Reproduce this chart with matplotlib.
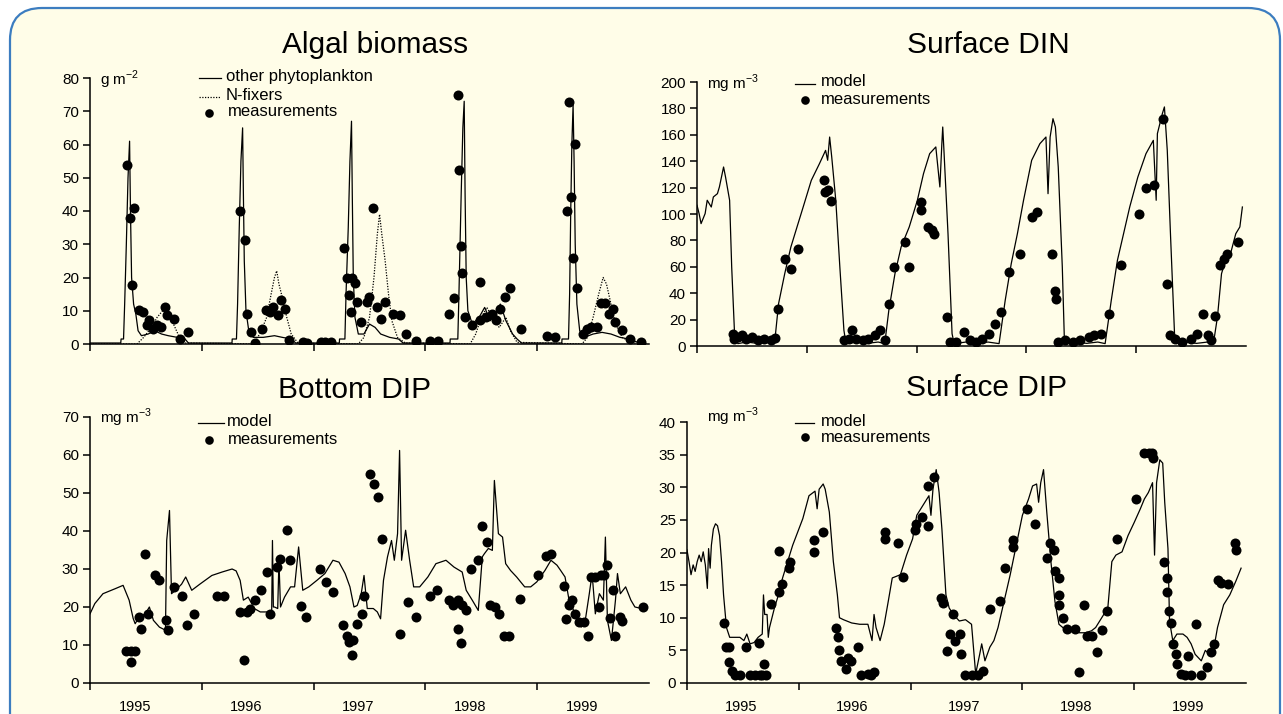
import matplotlib
matplotlib.use('Agg')
import matplotlib.pyplot as plt
from matplotlib.lines import Line2D
from matplotlib.patches import FancyBboxPatch

# ---------------- DATA ----------------
years = [1995, 1996, 1997, 1998, 1999]
year_labels = ['1995', '1996', '1997', '1998', '1999']

# Algal biomass: other phytoplankton (model)
algae_other_t = [1995.00, 1995.275, 1995.278, 1995.30, 1995.31, 1995.325, 1995.34, 1995.354, 1995.362, 1995.372, 1995.39, 1995.41, 1995.43, 1995.46, 1995.52, 1995.58, 1995.64, 1995.70, 1995.78, 1995.85, 1995.88,
                 1996.27, 1996.272, 1996.31, 1996.32, 1996.335, 1996.35, 1996.365, 1996.372, 1996.38, 1996.395, 1996.42, 1996.46, 1996.55, 1996.65, 1996.72, 1996.80, 1996.84,
                 1997.23, 1997.232, 1997.28, 1997.29, 1997.31, 1997.325, 1997.339, 1997.346, 1997.355, 1997.37, 1997.40, 1997.45, 1997.50, 1997.55, 1997.60, 1997.68, 1997.76, 1997.80,
                 1998.22, 1998.222, 1998.29, 1998.30, 1998.32, 1998.335, 1998.347, 1998.355, 1998.365, 1998.38, 1998.42, 1998.48, 1998.53, 1998.58, 1998.63, 1998.67, 1998.72, 1998.78, 1998.82, 1998.86,
                 1999.22, 1999.222, 1999.28, 1999.29, 1999.30, 1999.31, 1999.321, 1999.33, 1999.34, 1999.355, 1999.38, 1999.42, 1999.50, 1999.58, 1999.66, 1999.74, 1999.82, 1999.90, 1999.97]
algae_other_v = [0.3, 0.3, 1.5, 1.5, 12, 30, 50, 61, 40, 20, 12, 9, 4, 2.5, 3, 4, 3, 2.5, 2, 1.5, 0.3,
                 0.3, 1.5, 1.5, 12, 35, 55, 65, 45, 25, 10, 4, 2, 2, 2.5, 2, 1.5, 0.3,
                 0.3, 1.5, 1.5, 15, 35, 55, 67, 45, 20, 8, 3, 3, 6, 5, 3, 2, 1.5, 0.3,
                 0.3, 1.5, 1.5, 15, 45, 65, 73, 45, 20, 10, 6, 8, 11, 7, 9, 12, 7, 3, 1.5, 0.3,
                 0.3, 1.5, 1.5, 15, 40, 60, 72, 55, 30, 12, 4, 2, 3, 3.5, 3, 2, 1.5, 0.5, 0.2]

# Algal biomass: N-fixers (model)
algae_nfix_t = [1995.00, 1995.42, 1995.48, 1995.55, 1995.60, 1995.65, 1995.68, 1995.72, 1995.76, 1995.80, 1995.85,
                1996.45, 1996.52, 1996.58, 1996.62, 1996.65, 1996.67, 1996.69, 1996.72, 1996.76, 1996.80, 1996.86,
                1997.40, 1997.45, 1997.50, 1997.54, 1997.57, 1997.59, 1997.61, 1997.64, 1997.67, 1997.70, 1997.75, 1997.82,
                1998.40, 1998.45, 1998.50, 1998.55, 1998.60, 1998.66, 1998.72, 1998.76, 1998.82,
                1999.40, 1999.45, 1999.50, 1999.55, 1999.59, 1999.62, 1999.66, 1999.70, 1999.76, 1999.85, 1999.97]
algae_nfix_v = [0, 0, 2, 5, 8, 10, 11, 8, 5, 2, 0.3,
                0, 3, 8, 15, 20, 22, 18, 14, 8, 3, 0.3,
                0, 2, 8, 20, 33, 39, 33, 25, 15, 7, 2, 0.3,
                0, 3, 8, 11, 8, 5, 8, 4, 0.5,
                0, 2, 8, 15, 20, 18, 12, 6, 2, 0.3, 0]

# Algal biomass: measurements
algae_meas_t = [1995.332, 1995.361, 1995.394, 1995.375, 1995.440, 1995.477, 1995.513, 1995.531, 1995.567, 1995.603, 1995.639, 1995.675, 1995.693, 1995.747, 1995.801, 1995.874,
                1996.343, 1996.386, 1996.408, 1996.440, 1996.480, 1996.542, 1996.578, 1996.614, 1996.639, 1996.686, 1996.704, 1996.740, 1996.783, 1996.903, 1996.939, 1997.065, 1997.101, 1997.155,
                1997.274, 1997.300, 1997.347, 1997.372, 1997.318, 1997.336, 1997.390, 1997.426, 1997.480, 1997.498, 1997.534, 1997.570, 1997.606, 1997.643, 1997.708, 1997.769, 1997.823, 1997.913, 1998.040, 1998.112,
                1998.213, 1998.256, 1998.292, 1998.303, 1998.321, 1998.329, 1998.357, 1998.419, 1998.491, 1998.491, 1998.545, 1998.599, 1998.635, 1998.671, 1998.708, 1998.755, 1998.852,
                1999.087, 1999.159, 1999.267, 1999.303, 1999.285, 1999.339, 1999.321, 1999.357, 1999.412, 1999.448, 1999.484, 1999.538, 1999.574, 1999.610, 1999.646, 1999.682, 1999.700, 1999.755, 1999.827, 1999.93]
algae_meas_v = [53.7, 38.0, 41.0, 17.7, 10.1, 9.6, 5.6, 7.1, 4.6, 5.6, 5.1, 11.1, 8.6, 7.6, 1.5, 3.5,
                40.0, 31.4, 9.1, 3.5, 0.2, 4.6, 10.1, 9.6, 11.1, 8.6, 13.2, 10.6, 1.2, 0.5, 0.2, 0.5, 0.5, 0.5,
                28.9, 19.7, 19.7, 18.2, 14.7, 9.6, 12.7, 6.6, 12.7, 14.2, 41.0, 11.1, 7.6, 12.7, 9.1, 8.6, 3.0, 1.0, 1.0, 1.0,
                9.1, 13.7, 74.9, 52.2, 29.4, 21.3, 8.1, 5.6, 18.7, 7.1, 8.1, 9.1, 7.1, 10.6, 14.2, 16.7, 4.6,
                2.5, 2.0, 40.0, 44.1, 72.7, 60.3, 25.8, 16.7, 3.0, 4.6, 5.1, 5.1, 12.2, 12.2, 9.1, 10.6, 6.6, 4.1, 1.5, 0.5]

# Surface DIN: model
din_model_t = [1995.000, 1995.019, 1995.037, 1995.074, 1995.093, 1995.130, 1995.149, 1995.186, 1995.204, 1995.242, 1995.260, 1995.297, 1995.316, 1995.342, 1995.372,
               1995.45, 1995.55, 1995.65, 1995.706, 1995.743, 1995.799, 1995.855, 1995.911, 1995.967, 1996.041, 1996.115, 1996.171, 1996.190, 1996.208, 1996.227, 1996.264, 1996.301, 1996.338, 1996.357,
               1996.45, 1996.55, 1996.65, 1996.710, 1996.747, 1996.803, 1996.859, 1996.933, 1997.007, 1997.063, 1997.119, 1997.175, 1997.212, 1997.230, 1997.238, 1997.249, 1997.286, 1997.323, 1997.342,
               1997.45, 1997.55, 1997.65, 1997.751, 1997.807, 1997.862, 1997.918, 1997.974, 1998.048, 1998.123, 1998.178, 1998.197, 1998.216, 1998.242, 1998.264, 1998.290, 1998.327, 1998.346,
               1998.45, 1998.55, 1998.65, 1998.717, 1998.773, 1998.829, 1998.885, 1998.941, 1999.015, 1999.089, 1999.156, 1999.182, 1999.193, 1999.238, 1999.257, 1999.283, 1999.312, 1999.349, 1999.368,
               1999.45, 1999.55, 1999.65, 1999.703, 1999.740, 1999.777, 1999.814, 1999.851, 1999.907, 1999.944, 1999.967]
din_model_v = [106.6, 100.3, 92.7, 100.3, 110.4, 105.3, 112.9, 115.4, 120.5, 135.6, 128.0, 110.4, 59.8, 9.3, 1.8,
               3.0, 2.0, 3.0, 1.8, 32.1, 54.8, 75.0, 90.2, 105.3, 125.5, 138.1, 148.2, 140.7, 158.3, 143.2, 110.4, 59.8, 11.9, 1.8,
               3.0, 2.0, 3.0, 1.8, 27.0, 54.8, 75.0, 90.2, 110.4, 130.6, 145.7, 150.8, 120.5, 153.3, 165.9, 148.2, 85.1, 9.3, 1.8,
               3.0, 2.0, 3.0, 1.8, 34.6, 62.4, 85.1, 110.4, 140.7, 153.3, 158.3, 115.4, 158.3, 172.2, 165.9, 135.6, 59.8, 4.3,
               3.0, 2.0, 3.0, 1.8, 34.6, 64.9, 85.1, 105.3, 128.0, 145.7, 155.8, 110.4, 160.9, 176.0, 181.1, 148.2, 85.1, 9.3, 1.8,
               3.0, 2.0, 3.0, 1.8, 22.0, 54.8, 64.9, 67.4, 85.1, 90.2, 105.3]

# Surface DIN: measurements
din_meas_t = [1995.33, 1995.34, 1995.37, 1995.41, 1995.45, 1995.50, 1995.56, 1995.61, 1995.67, 1995.71,
              1995.74, 1995.80, 1995.86, 1995.92, 1996.16, 1996.17, 1996.19, 1996.22,
              1996.34, 1996.38, 1996.41, 1996.45, 1996.51, 1996.56, 1996.62, 1996.67, 1996.71,
              1996.75, 1996.79, 1996.89, 1996.93, 1997.04, 1997.04, 1997.10, 1997.14, 1997.16, 1997.28,
              1997.30, 1997.36, 1997.43, 1997.49, 1997.54, 1997.60, 1997.66, 1997.71,
              1997.77, 1997.84, 1997.94, 1998.05, 1998.10, 1998.23, 1998.26, 1998.27,
              1998.29, 1998.35, 1998.42, 1998.49, 1998.57, 1998.62, 1998.68,
              1998.75, 1998.86, 1999.03, 1999.09, 1999.16, 1999.24, 1999.28,
              1999.31, 1999.35, 1999.42, 1999.50, 1999.55, 1999.61, 1999.65, 1999.68,
              1999.72, 1999.76, 1999.80, 1999.83, 1999.93]
din_meas_v = [9.3, 5.6, 6.8, 8.0, 5.6, 6.8, 4.3, 5.6, 4.3, 6.3,
              28.0, 66.0, 58.6, 73.7, 125.5, 116.7, 118.0, 110.0,
              4.3, 5.6, 11.9, 5.6, 4.3, 5.6, 8.0, 11.9, 4.3,
              32.0, 60.0, 79.0, 60.0, 109.0, 103.0, 90.0, 87.6, 85.0, 22.0,
              3.0, 3.0, 10.6, 4.3, 3.0, 5.6, 9.3, 17.0,
              25.8, 56.0, 70.0, 97.7, 101.5, 70.0, 42.0, 35.9,
              3.0, 4.3, 3.0, 4.3, 6.8, 8.0, 9.3,
              24.5, 61.0, 100.0, 120.0, 121.7, 172.0, 47.0,
              8.0, 5.6, 3.0, 5.6, 9.3, 24.5, 8.0, 4.3,
              23.0, 61.0, 66.0, 70.0, 79.0]

# Bottom DIP: model
bdip_model_t = [1995.000, 1995.043, 1995.116, 1995.224, 1995.296, 1995.314, 1995.350, 1995.386, 1995.404, 1995.440, 1995.495, 1995.531, 1995.567, 1995.621, 1995.675, 1995.686, 1995.711, 1995.729,
                1995.765, 1995.819, 1995.856, 1995.910, 1995.982, 1996.090, 1996.181, 1996.271, 1996.307, 1996.343, 1996.372, 1996.415, 1996.469, 1996.523, 1996.578, 1996.625, 1996.632, 1996.640,
                1996.650, 1996.679, 1996.690, 1996.704, 1996.740, 1996.794, 1996.830, 1996.866, 1996.903, 1996.957, 1997.029, 1997.101, 1997.173, 1997.227, 1997.282, 1997.325, 1997.361, 1997.390,
                1997.426, 1997.451, 1997.480, 1997.534, 1997.570, 1997.599, 1997.625, 1997.661, 1997.697, 1997.722, 1997.751, 1997.769, 1997.787, 1997.823, 1997.859, 1997.895, 1997.949, 1998.022,
                1998.094, 1998.184, 1998.256, 1998.329, 1998.365, 1998.419, 1998.473, 1998.509, 1998.527, 1998.563, 1998.599, 1998.617, 1998.653, 1998.690, 1998.718, 1998.762, 1998.816, 1998.888,
                1998.942, 1998.996, 1999.069, 1999.123, 1999.177, 1999.210, 1999.249, 1999.285, 1999.339, 1999.394, 1999.430, 1999.466, 1999.491, 1999.520, 1999.556, 1999.592, 1999.610, 1999.628,
                1999.664, 1999.700, 1999.718, 1999.744, 1999.791, 1999.838, 1999.874, 1999.95]
bdip_model_v = [18.2, 20.9, 23.5, 24.8, 25.7, 24.4, 21.8, 17.0, 15.6, 17.4, 18.2, 20.0, 16.5, 14.7, 13.9, 37.5, 45.4, 23.5,
                24.4, 26.0, 27.9, 24.4, 26.0, 28.3, 29.2, 30.0, 29.5, 27.0, 21.8, 22.6, 19.6, 18.7, 18.7, 18.7, 37.5, 20.0,
                20.0, 19.6, 32.0, 20.0, 22.6, 25.3, 25.3, 35.8, 24.4, 25.3, 27.0, 28.8, 32.3, 31.8, 28.8, 25.3, 20.0, 20.4,
                23.5, 28.3, 19.6, 19.6, 18.7, 16.9, 27.0, 33.2, 37.5, 32.3, 39.3, 61.2, 32.3, 40.2, 32.3, 25.3, 25.3, 27.9,
                31.4, 32.3, 30.5, 29.2, 24.4, 21.8, 19.1, 33.2, 34.0, 35.4, 34.9, 53.3, 39.3, 38.4, 31.4, 29.6, 27.9, 25.3,
                25.3, 26.6, 29.6, 32.3, 31.0, 29.6, 27.9, 21.8, 18.2, 14.7, 16.5, 23.5, 28.8, 18.2, 23.5, 21.8, 38.4, 16.5,
                11.2, 21.8, 28.8, 23.5, 25.3, 21.8, 20.0, 19.5]

# Bottom DIP: measurements
bdip_meas_t = [1995.32, 1995.37, 1995.40, 1995.37, 1995.44, 1995.46, 1995.49, 1995.52, 1995.58, 1995.62, 1995.68, 1995.70, 1995.75, 1995.82, 1995.87, 1995.93,
               1996.14, 1996.20, 1996.34, 1996.38, 1996.40, 1996.43, 1996.48, 1996.53, 1996.58, 1996.61, 1996.67, 1996.70, 1996.76, 1996.79, 1996.89, 1996.93,
               1997.06, 1997.11, 1997.17, 1997.26, 1997.30, 1997.32, 1997.34, 1997.35, 1997.39, 1997.43, 1997.45, 1997.50, 1997.54, 1997.58, 1997.61, 1997.77, 1997.84, 1997.92,
               1998.04, 1998.10, 1998.21, 1998.25, 1998.29, 1998.33, 1998.36, 1998.29, 1998.32, 1998.41, 1998.47, 1998.51, 1998.55, 1998.58, 1998.62, 1998.66, 1998.70, 1998.75, 1998.85,
               1999.01, 1999.08, 1999.12, 1999.24, 1999.26, 1999.28, 1999.31, 1999.34, 1999.37, 1999.42, 1999.45, 1999.48, 1999.52, 1999.55, 1999.57, 1999.60, 1999.62, 1999.65, 1999.68, 1999.70, 1999.74, 1999.76, 1999.95]
bdip_meas_v = [8.4, 8.4, 8.4, 5.5, 17.4, 14.3, 34.0, 18.2, 28.3, 27.0, 16.5, 14.0, 25.3, 23.0, 15.2, 18.2,
               23.0, 23.0, 18.7, 6.0, 18.7, 19.6, 21.8, 24.4, 29.2, 18.2, 30.5, 32.7, 40.2, 32.3, 20.2, 17.4,
               30.0, 26.6, 24.0, 15.2, 12.5, 10.8, 7.3, 11.2, 15.6, 18.2, 23.0, 55.0, 52.5, 49.0, 38.0, 13.0, 21.3, 17.4,
               23.0, 24.4, 21.8, 20.4, 21.8, 20.4, 19.3, 14.3, 10.4, 30.0, 32.3, 41.2, 37.1, 20.4, 20.0, 18.2, 12.3, 12.3, 22.2,
               28.3, 33.4, 34.0, 25.4, 16.9, 20.4, 21.8, 18.2, 16.0, 16.0, 12.3, 27.9, 28.0, 20.0, 28.3, 28.3, 31.0, 17.2, 24.4, 12.4, 17.4, 16.3, 20.0]

# Surface DIP: model
sdip_model_t = [1995.000, 1995.018, 1995.036, 1995.055, 1995.073, 1995.091, 1995.109, 1995.127, 1995.145, 1995.164, 1995.182, 1995.193, 1995.207, 1995.218, 1995.236, 1995.255, 1995.273, 1995.291,
                1995.309, 1995.327, 1995.353, 1995.382, 1995.436, 1995.473, 1995.509, 1995.535, 1995.564, 1995.600, 1995.636, 1995.673, 1995.684, 1995.695, 1995.716, 1995.727, 1995.738, 1995.753,
                1995.782, 1995.818, 1995.855, 1995.909, 1995.945, 1996.000, 1996.036, 1996.091, 1996.145, 1996.164, 1996.182, 1996.218, 1996.236, 1996.273, 1996.309, 1996.345, 1996.364, 1996.400,
                1996.473, 1996.545, 1996.618, 1996.655, 1996.673, 1996.691, 1996.727, 1996.764, 1996.800, 1996.836, 1996.909, 1996.964, 1997.018, 1997.055, 1997.127, 1997.164, 1997.182, 1997.200,
                1997.229, 1997.255, 1997.280, 1997.316, 1997.345, 1997.382, 1997.436, 1997.491, 1997.545, 1997.582, 1997.618, 1997.636, 1997.665, 1997.709, 1997.745, 1997.782, 1997.836, 1997.891,
                1997.945, 1998.000, 1998.055, 1998.091, 1998.127, 1998.145, 1998.164, 1998.189, 1998.200, 1998.218, 1998.255, 1998.291, 1998.327, 1998.382, 1998.436, 1998.509, 1998.564, 1998.618,
                1998.655, 1998.691, 1998.727, 1998.764, 1998.800, 1998.836, 1998.891, 1998.945, 1999.000, 1999.055, 1999.091, 1999.127, 1999.164, 1999.182, 1999.200, 1999.229, 1999.255, 1999.273,
                1999.302, 1999.316, 1999.345, 1999.382, 1999.436, 1999.473, 1999.509, 1999.545, 1999.600, 1999.636, 1999.673, 1999.709, 1999.745, 1999.800, 1999.855, 1999.909, 1999.956]
sdip_model_v = [20.4, 18.6, 16.6, 18.1, 17.1, 18.6, 19.6, 18.6, 20.1, 18.1, 14.5, 20.6, 17.6, 21.1, 23.6, 24.4, 24.1, 22.6,
                18.6, 13.5, 8.5, 7.0, 7.0, 7.0, 6.5, 7.5, 6.0, 6.2, 7.0, 7.5, 13.5, 10.5, 10.5, 7.0, 8.5, 9.5,
                11.5, 13.5, 16.1, 19.1, 21.1, 23.6, 25.2, 28.7, 29.4, 26.7, 29.7, 30.5, 29.7, 26.2, 18.6, 13.5, 10.0, 9.7,
                9.2, 9.0, 9.0, 6.5, 10.5, 8.5, 6.5, 9.0, 12.5, 16.1, 16.6, 19.6, 22.1, 25.7, 27.7, 28.7, 25.7, 29.7,
                32.7, 29.2, 23.6, 13.5, 11.5, 10.5, 9.5, 9.7, 9.0, 1.4, 4.4, 6.0, 3.4, 5.5, 6.5, 8.5, 12.5, 16.6,
                21.1, 25.7, 28.2, 30.2, 30.5, 27.7, 30.7, 32.7, 30.2, 26.2, 18.6, 12.5, 9.0, 8.2, 8.2, 7.7, 7.7, 8.0,
                8.5, 9.5, 10.5, 11.5, 18.6, 19.6, 20.1, 22.6, 24.6, 26.7, 28.2, 29.2, 30.7, 19.6, 30.7, 34.2, 33.7, 27.7,
                20.6, 9.5, 6.5, 7.5, 7.5, 7.0, 6.0, 4.4, 3.4, 5.0, 4.4, 5.0, 8.5, 12.0, 13.5, 15.6, 17.6]

# Surface DIP: measurements
sdip_meas_t = [1995.33, 1995.35, 1995.38, 1995.38, 1995.40, 1995.43, 1995.47, 1995.53, 1995.56, 1995.61, 1995.65, 1995.64, 1995.67, 1995.69, 1995.71,
               1995.75, 1995.82, 1995.82, 1995.85, 1995.91, 1995.92, 1996.14, 1996.14, 1996.22,
               1996.33, 1996.35, 1996.36, 1996.38, 1996.42, 1996.44, 1996.47, 1996.53, 1996.56, 1996.62, 1996.67, 1996.65,
               1996.77, 1996.77, 1996.89, 1996.93, 1997.04, 1997.05, 1997.10, 1997.16, 1997.16, 1997.21,
               1997.27, 1997.29, 1997.33, 1997.35, 1997.38, 1997.40, 1997.44, 1997.45, 1997.49, 1997.55, 1997.60, 1997.65,
               1997.71, 1997.80, 1997.84, 1997.92, 1997.92, 1998.04, 1998.11, 1998.22, 1998.25, 1998.28, 1998.29, 1998.33, 1998.33, 1998.33, 1998.36,
               1998.40, 1998.47, 1998.51, 1998.55, 1998.58, 1998.62, 1998.67, 1998.71, 1998.76, 1998.85, 1999.02, 1999.09, 1999.13, 1999.17, 1999.16,
               1999.27, 1999.29, 1999.29, 1999.31, 1999.33, 1999.35, 1999.37, 1999.38, 1999.42, 1999.45, 1999.48, 1999.51, 1999.55, 1999.60, 1999.65,
               1999.69, 1999.71, 1999.75, 1999.78, 1999.84, 1999.90, 1999.91]
sdip_meas_v = [9.2, 5.5, 5.5, 3.2, 1.9, 1.2, 1.2, 5.5, 1.2, 1.2, 1.2, 6.2, 1.2, 2.9, 1.2,
               12.1, 20.2, 14.0, 15.2, 17.6, 18.6, 20.1, 21.9, 23.2,
               8.5, 7.0, 5.0, 3.4, 2.2, 3.9, 3.4, 5.5, 1.2, 1.4, 1.7, 1.2,
               23.1, 22.1, 21.4, 16.3, 23.4, 24.4, 25.4, 24.1, 30.2, 31.5,
               13.0, 12.3, 4.9, 7.5, 10.5, 6.5, 7.5, 4.4, 1.2, 1.2, 1.2, 1.9,
               11.3, 12.5, 17.6, 21.9, 20.9, 26.7, 24.3, 19.1, 21.4, 20.4, 17.1, 16.1, 13.5, 12.0, 10.0,
               8.2, 8.2, 1.7, 12.0, 7.2, 7.2, 4.7, 8.1, 11.0, 22.1, 28.2, 35.3, 35.3, 34.5, 35.3,
               18.6, 16.1, 14.0, 11.0, 9.2, 6.0, 4.4, 2.9, 1.4, 1.2, 4.2, 1.2, 9.0, 1.2, 2.4,
               4.7, 6.0, 15.8, 15.3, 15.1, 21.4, 20.4]

# ---------------- FIGURE ----------------
W, H = 1283, 714
plt.rcParams['font.family'] = ['Liberation Sans', 'DejaVu Sans']
plt.rcParams['mathtext.fontset'] = 'custom'
plt.rcParams['mathtext.rm'] = 'Liberation Sans'

fig = plt.figure(figsize=(W / 100, H / 100), dpi=100)
fig.patch.set_facecolor('white')
CREAM = '#FFFDE8'
bg = FancyBboxPatch((10, -60), 1270, H - 8 + 60, boxstyle='round,pad=0,rounding_size=32',
                    transform=None, facecolor=CREAM, edgecolor='#3C7DC0', linewidth=1.6, zorder=-10)
fig.add_artist(bg)


def fx(px):
    return px / W


def fy(py):
    return 1 - py / H


def make_ax(l, r, top, bottom, ymax, ystep, xlabels, label_off):
    ax = fig.add_axes([fx(l), fy(bottom), fx(r - l), (bottom - top) / H])
    ax.set_facecolor('none')
    for s in ['top', 'right']:
        ax.spines[s].set_visible(False)
    for s in ['left', 'bottom']:
        ax.spines[s].set_linewidth(1.1)
    ax.set_xlim(1995, 2000)
    ax.set_ylim(0, ymax)
    ax.set_yticks(list(range(0, ymax + 1, ystep)))
    ax.set_xticks(years)
    ax.set_xticklabels([''] * len(years))
    ax.tick_params(axis='both', which='major', direction='out', length=5, width=1.1,
                   labelsize=11, pad=3)
    if xlabels:
        ax.set_xticks([y + label_off for y in years], minor=True)
        ax.set_xticklabels(year_labels, minor=True)
        ax.tick_params(axis='x', which='minor', length=0, pad=12, labelsize=10.5)
    return ax


ax1 = make_ax(90, 649, 78, 344, 80, 10, False, 0)
ax2 = make_ax(697, 1246, 82, 346, 200, 20, False, 0)
ax3 = make_ax(90, 649, 417, 683, 70, 10, True, 0.40)
ax4 = make_ax(687, 1246, 422, 683, 40, 5, True, 0.48)

LW = 0.9
MS = 7.2
ax1.plot(algae_other_t, algae_other_v, color='black', lw=LW)
ax1.plot(algae_nfix_t, algae_nfix_v, color='black', lw=LW, ls=(0, (1, 1.2)))
ax1.plot(algae_meas_t, algae_meas_v, 'o', color='black', ms=MS, mec='none')

ax2.plot(din_model_t, din_model_v, color='black', lw=LW)
ax2.plot(din_meas_t, din_meas_v, 'o', color='black', ms=MS, mec='none')

ax3.plot(bdip_model_t, bdip_model_v, color='black', lw=LW)
ax3.plot(bdip_meas_t, bdip_meas_v, 'o', color='black', ms=MS, mec='none')

ax4.plot(sdip_model_t, sdip_model_v, color='black', lw=LW)
ax4.plot(sdip_meas_t, sdip_meas_v, 'o', color='black', ms=MS, mec='none')

# Titles
TS = 21.5
fig.text(fx(375), fy(45), 'Algal biomass', ha='center', va='center', fontsize=TS)
fig.text(fx(988), fy(45), 'Surface DIN', ha='center', va='center', fontsize=TS)
fig.text(fx(355), fy(390), 'Bottom DIP', ha='center', va='center', fontsize=TS)
fig.text(fx(987), fy(388), 'Surface DIP', ha='center', va='center', fontsize=TS)

# Units
US = 11
fig.text(fx(100), fy(80), r'g m$^{\mathregular{-2}}$', ha='left', va='center', fontsize=US)
fig.text(fx(707), fy(84), r'mg m$^{\mathregular{-3}}$', ha='left', va='center', fontsize=US)
fig.text(fx(100), fy(418), r'mg m$^{\mathregular{-3}}$', ha='left', va='center', fontsize=US)
fig.text(fx(707), fy(417), r'mg m$^{\mathregular{-3}}$', ha='left', va='center', fontsize=US)

# Legends
LS = 12


def leg_line(x1, x2, y, ls='-'):
    fig.add_artist(Line2D([fx(x1), fx(x2)], [fy(y), fy(y)], transform=fig.transFigure,
                          color='black', lw=LW, ls=ls))


def leg_dot(x, y):
    fig.add_artist(Line2D([fx(x)], [fy(y)], transform=fig.transFigure, marker='o',
                          color='black', ms=MS - 1, mec='none', ls='none'))


def leg_text(x, y, s):
    fig.text(fx(x), fy(y), s, ha='left', va='center', fontsize=LS)


leg_line(199, 221, 78)
leg_text(226, 77, 'other phytoplankton')
leg_line(199, 221, 97, ls=(0, (1, 1.2)))
leg_text(226, 96, 'N-fixers')
leg_dot(209, 113)
leg_text(228, 112, 'measurements')

leg_line(795, 815, 84)
leg_text(821, 82, 'model')
leg_dot(805, 100)
leg_text(821, 100, 'measurements')

leg_line(198, 224, 423)
leg_text(227, 421, 'model')
leg_dot(209, 440)
leg_text(228, 440, 'measurements')

leg_line(795, 814, 423)
leg_text(821, 421, 'model')
leg_dot(805, 437)
leg_text(821, 437, 'measurements')

fig.savefig('out.png', dpi=100, facecolor=fig.get_facecolor())
